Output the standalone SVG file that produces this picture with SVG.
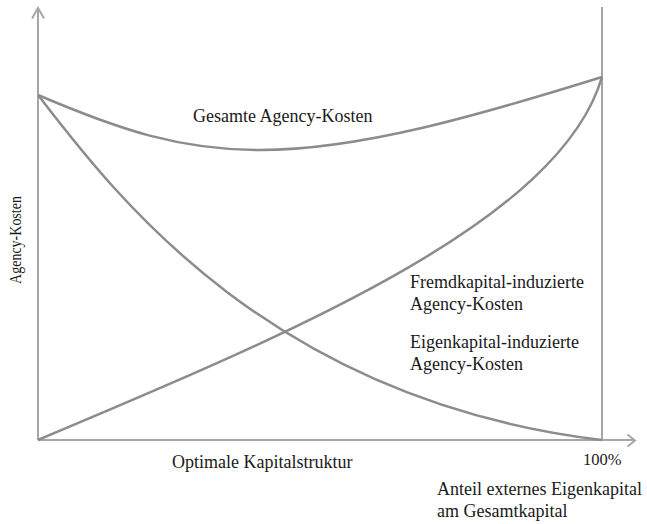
<svg xmlns="http://www.w3.org/2000/svg" width="647" height="524" viewBox="0 0 647 524">
<style>
.axis{fill:none;stroke:#a6a6a6;stroke-width:2}
.curve{fill:none;stroke:#8c8c8c;stroke-width:2.5}
.t{font-family:"Liberation Serif","Times New Roman",serif;font-size:18px;fill:#1a1a1a}
</style>
<rect width="647" height="524" fill="#fff"/>
<g id="axes">
<path class="axis" d="M38,440 V8 M32,18.5 L38,8 L44,18.5"/>
<path class="axis" d="M38,440 H635 M627.5,434.5 L635,440.5 L627.5,446.5"/>
<path class="axis" d="M602,7 V440"/>
</g>
<g id="connectors">
<path id="gesamt" class="curve" d="M38,95 C120,130 180,150 260,150 C360,150 480,115 602,77"/>
<path id="eigen" class="curve" d="M38,95 C115,195 270,400 602,440"/>
<path id="fremd" class="curve" d="M38,440 C300,330 560,220 602,77"/>
</g>
<g id="labels">
<text class="t" x="193" y="121.5">Gesamte Agency-Kosten</text>
<text class="t" x="410" y="288">Fremdkapital-induzierte</text>
<text class="t" x="410" y="310">Agency-Kosten</text>
<text class="t" x="410" y="348">Eigenkapital-induzierte</text>
<text class="t" x="410" y="370">Agency-Kosten</text>
<text class="t" x="172" y="468">Optimale Kapitalstruktur</text>
<text class="t" x="583" y="465" style="font-size:16.5px">100%</text>
<text class="t" x="437" y="495">Anteil externes Eigenkapital</text>
<text class="t" x="437" y="517">am Gesamtkapital</text>
<text class="t" transform="translate(21,240) rotate(-90) scale(1,1.2)" text-anchor="middle" style="font-size:14px">Agency-Kosten</text>
</g>
</svg>
